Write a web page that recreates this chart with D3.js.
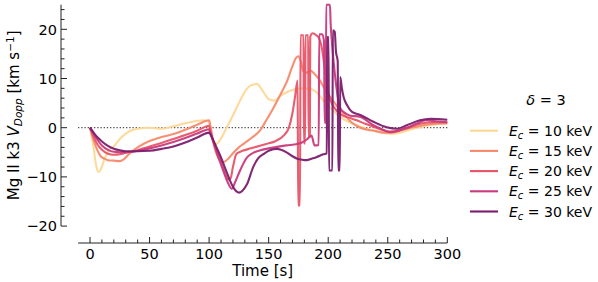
<!DOCTYPE html>
<html><head><meta charset="utf-8">
<script src="https://cdn.jsdelivr.net/npm/d3@7/dist/d3.min.js"></script>
<style>
body{margin:0;background:#fff;}
text{font-family:"DejaVu Sans",sans-serif;fill:#000;}
</style></head>
<body><svg id="c" width="598" height="282"></svg>
<script>
// ---- data ----
const energies = [10, 15, 20, 25, 30];
const colors = ["#fdd795","#f7896b","#e75468","#c93b7c","#7a1d6e"];
const xTicks = [0,50,100,150,200,250,300];
const yTicks = [-20,-10,0,10,20];

const tE10 = [0,3,5,7,9,12,16,20,25,30,35,40,50,60,70,80,90,95,100,101,103,106,110,114,118,122,126,130,135,140,145,150,155,160,166,172,180,186,191,196,203,210,217,224,232,240,248,255,262,270,278,285,292,300];
const vE10 = [0,-4,-7.5,-9,-8.5,-6.5,-4.5,-3.8,-2.3,-1.2,-0.5,-0.2,0,-0.2,0.3,0.9,1.4,1.5,1.3,-0.5,-2.5,-3.3,-2.2,-0.3,1.5,3.5,5.5,7.3,8.6,8.9,7.5,5.8,5.5,6.5,7.3,7.8,8,7.8,7,5.5,3.8,2.2,1.2,0.5,-0.2,-0.7,-1.1,-1.2,-0.9,-0.3,0.2,0.5,0.7,0.8];

const tE15 = [0,3,6,9,12,15,20,25,28,33,40,50,60,70,80,90,100,101,104,108,112,116,120,125,130,136,143,148,154,160,165,170,173,175,177,179,182,185,189,193,198,202,207,213,220,226,233,240,246,252,259,266,274,282,290,300];
const vE15 = [0,-2.5,-4.5,-5.8,-6.3,-6.6,-6.7,-6.8,-6.5,-5.3,-4,-2.7,-1.9,-1.3,-0.4,0.6,1.5,0.5,-3.5,-6.2,-7.0,-6.3,-5.2,-4,-3.1,-2,-0.5,1.5,4,6.8,9.2,12.5,14.2,14.5,13.5,11.5,11.2,11.6,10.8,9.6,7.5,6.2,4.5,2.9,1.0,0.1,-0.4,-0.7,-1,-1,-0.7,-0.2,0.2,0.6,0.8,0.9];

const tE20 = [0,3,6,10,15,20,25,30,40,50,60,70,80,90,100,101,103,106,110,113,116,118,120,123,128,135,142,148,155,163,167,170,172,174.3,174.8,176.3,176.8,179.3,179.6,180.6,180.9,183.2,183.5,184.6,184.9,187,190,192,194,197,199,202,207,212,218,224,231,238,245,252,259,266,274,282,290,300];
const vE20 = [0,-1.8,-3.3,-4.5,-5.3,-5.5,-5.4,-5.1,-4.6,-3.8,-3.1,-2.3,-1.5,-0.6,0.4,-0.5,-2.5,-4.5,-7,-9,-10.5,-10.3,-8,-5.3,-4.7,-4.2,-3.7,-3.3,-2.8,-1.5,0,3,6,9.6,-15.8,-15.8,18.8,18.8,-3.2,-3.2,18.8,18.8,-1.9,-1.9,18.5,19.2,18.8,18.3,17,12.3,8.3,5.5,3.5,2.5,2,1.5,0.8,0.2,-0.4,-0.8,-0.6,-0.1,0.6,1,1.1,1.1];

const tE25 = [0,3,6,10,15,20,25,30,40,50,60,70,80,90,100,101,104,107,110,113,116,119,122,126,132,138,143,150,157,165,174,178,182,186,188.5,192,192.5,195,196.5,197,198,198.3,201.5,202,203,205,207,210,214,218,227,238,245,252,259,266,274,282,290,300];
const vE25 = [0,-1.2,-2.4,-3.6,-4.5,-4.9,-5,-5,-4.7,-4.2,-3.6,-2.9,-2.1,-1.2,-0.3,-1,-3,-5.5,-7.5,-9.5,-11.3,-12.4,-11,-8.7,-6,-5,-4.6,-4.2,-3.9,-3.6,-3.3,-3,-2.4,-1.6,-3.6,-3.5,19,19,17.5,1,1,25,25,21.5,17.7,12.3,8,4,3,2.5,2.2,0.5,-0.3,-0.9,-0.6,0,0.8,1.5,1.3,1.1];

const tE30 = [0,3,6,10,15,20,25,30,40,50,60,70,80,90,100,101,103,106,109,112,115,118,121,125,128,132,137,141,146,151,157,165,170,174,178,182,186,190,196,198.8,199.2,200.3,200.7,203.5,203.9,205.5,206.5,208,208.4,209.7,210.1,211.5,213,216,220,227,238,249,258,266,277,286,300];
const vE30 = [0,-1,-1.9,-2.8,-3.7,-4.3,-4.6,-4.8,-4.8,-4.7,-4.3,-3.8,-3.0,-2.0,-1.0,-1.3,-2.3,-3.9,-5.5,-7.3,-9.2,-11,-12.4,-13.2,-12.8,-11.4,-8,-6.3,-5.3,-4.6,-4.3,-5,-5.8,-6.3,-6.5,-6.6,-6.3,-6,-5.4,-5.2,18.4,18.4,-8.7,-8.7,19.8,19.5,15.5,13.5,-8.7,-8.7,10.3,8,6.2,4.5,3.2,2.6,1.2,0.1,-0.2,0.5,1.5,1.8,1.6];

const seriesT = [tE10,tE15,tE20,tE25,tE30];
const seriesV = [vE10,vE15,vE20,vE25,vE30];

// ---- layout ----
const svg = d3.select("#c");
const x = d3.scaleLinear().domain([-10,300]).range([78.1,447.3]);
const y = d3.scaleLinear().domain([-20,25]).range([226.1,4.7]);
const xAxisY = 243;
const yAxisX = 61;

svg.append("line").attr("x1",x(-10)).attr("x2",x(300)).attr("y1",y(0)).attr("y2",y(0))
  .attr("stroke","#444").attr("stroke-width",1.2).attr("stroke-dasharray","1.2,2");

const line = d3.line().x(d=>x(d[0])).y(d=>y(d[1])).curve(d3.curveMonotoneX);
seriesT.forEach((ts,i)=>{
  const pts = ts.map((t,j)=>[t, seriesV[i][j]]);
  svg.append("path").attr("d",line(pts)).attr("fill","none")
    .attr("stroke",colors[i]).attr("stroke-width",2.1).attr("stroke-linejoin","round")
    .attr("stroke-opacity",0.95);
});

// y axis
const gy = svg.append("g").attr("transform",`translate(${yAxisX},0)`);
gy.append("line").attr("x1",0).attr("x2",0).attr("y1",y(25)).attr("y2",y(-20)).attr("stroke","#222").attr("stroke-width",1);
d3.range(-20,25,2).forEach(v=>{
  const major = v%10===0;
  gy.append("line").attr("x1",0).attr("x2",major?6:3.5).attr("y1",y(v)).attr("y2",y(v)).attr("stroke","#222").attr("stroke-width",1);
});
yTicks.forEach(v=>{
  gy.append("text").attr("x",-4).attr("y",y(v)).attr("dy","0.36em").attr("text-anchor","end")
    .style("font-size","14.5px").text(v<0? "\u2212"+Math.abs(v): String(v));
});

// x axis
const gx = svg.append("g").attr("transform",`translate(0,${xAxisY})`);
gx.append("line").attr("x1",x(-10)).attr("x2",x(300)).attr("y1",0).attr("y2",0).attr("stroke","#222").attr("stroke-width",1);
d3.range(0,301,10).forEach(t=>{
  const major = t%50===0;
  gx.append("line").attr("x1",x(t)).attr("x2",x(t)).attr("y1",0).attr("y2",major?-6:-3.5).attr("stroke","#222").attr("stroke-width",1);
});
xTicks.forEach(t=>{
  gx.append("text").attr("x",x(t)).attr("y",15.5).attr("text-anchor","middle").style("font-size","14.5px").text(String(t));
});
svg.append("text").attr("x",(x(-10)+x(300))/2).attr("y",276).attr("text-anchor","middle").style("font-size","15px").text("Time [s]");

// y label
const yl = svg.append("text").attr("transform",`translate(19,${(y(25)+y(-20))/2}) rotate(-90)`).attr("text-anchor","middle").style("font-size","15px");
yl.append("tspan").text("Mg II k3 ");
yl.append("tspan").style("font-style","italic").text("V");
yl.append("tspan").style("font-style","italic").style("font-size","10.5px").attr("dy",3).text("Dopp");
yl.append("tspan").attr("dy",-3).text(" [km s");
yl.append("tspan").style("font-size","10.5px").attr("dy",-5.5).text("\u22121");
yl.append("tspan").attr("dy",5.5).text("]");

// legend
const lg = svg.append("g");
const title = lg.append("text").attr("x",546).attr("y",105).attr("text-anchor","middle").style("font-size","14.5px");
title.append("tspan").style("font-style","italic").text("\u03b4");
title.append("tspan").text(" = 3");
energies.forEach((e,i)=>{
  const yy = 130.7 + i*20.2;
  lg.append("line").attr("x1",470).attr("x2",498).attr("y1",yy).attr("y2",yy).attr("stroke",colors[i]).attr("stroke-width",2.1);
  const t = lg.append("text").attr("x",509).attr("y",yy+5).style("font-size","14px");
  t.append("tspan").style("font-style","italic").text("E");
  t.append("tspan").style("font-style","italic").style("font-size","10px").attr("dy",3).text("c");
  t.append("tspan").attr("dy",-3).text(" = " + e + " keV");
});
</script>
</body></html>
